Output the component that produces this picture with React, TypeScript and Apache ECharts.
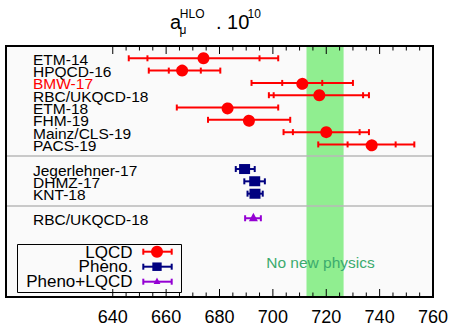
import React, { useEffect, useRef } from "react";
import * as echarts from "echarts";

// ---- data ----
const lqcdNames = ["ETM-14", "HPQCD-16", "BMW-17", "RBC/UKQCD-18", "ETM-18", "FHM-19", "Mainz/CLS-19", "PACS-19"];
const lqcdRows = [1, 2, 3, 4, 5, 6, 7, 8];
const lqcdValues = [674, 666, 711, 717.4, 683, 691, 720, 737];
const lqcdInnerLo = [653, 661, 703.5, 700.3, null, null, 707.5, 728];
const lqcdInnerHi = [695, 673, 718.5, 733.8, null, null, 732.5, 746];
const lqcdOuterLo = [646, 653.5, 692, 698.5, 664, 675.7, 704, 717];
const lqcdOuterHi = [702, 680.3, 730, 736, 702, 706.5, 736, 753];

const phenoNames = ["Jegerlehner-17", "DHMZ-17", "KNT-18"];
const phenoRows = [10, 11, 12];
const phenoValues = [689.4, 693.2, 693.3];
const phenoLo = [686.1, 689.3, 690.5];
const phenoHi = [693.2, 697.0, 696.2];

const comboNames = ["RBC/UKQCD-18"];
const comboRows = [14];
const comboValues = [692.7];
const comboLo = [689.6];
const comboHi = [695.5];

const highlighted = ["BMW-17"];
const separatorRows = [8.95, 13];
const noNewPhysicsBand = [712.6, 726.5];
const xTickLabels = [640, 660, 680, 700, 720, 740, 760];
const xMinorStep = 5;

const X_MIN = 600;
const X_MAX = 760;
const X_INTERVAL = 20;
const Y_MIN = 0;
const Y_MAX = 20.4;

const RED = "#ff0000";
const NAVY = "#000080";
const VIOLET = "#9400d3";
const FONT = "'Liberation Sans', Arial, Helvetica, sans-serif";

const tickValues: number[] = [];
for (let v = xTickLabels[0]; v <= X_MAX; v += xMinorStep) tickValues.push(v);

function markerShape(kind: string, cx: number, cy: number, color: string, size = 1) {
  if (kind === "circle") {
    return { type: "circle", shape: { cx, cy, r: 6 * size }, style: { fill: color } };
  }
  if (kind === "square") {
    return { type: "rect", shape: { x: cx - 5.5 * size, y: cy - 5 * size, width: 11 * size, height: 10 * size }, style: { fill: color } };
  }
  return {
    type: "polygon",
    shape: { points: [[cx, cy - 5.5 * size], [cx - 4.5 * size, cy + 3 * size], [cx + 4.5 * size, cy + 3 * size]] },
    style: { fill: color },
  };
}

function errorSeries(
  rows: number[], values: number[], oLo: number[], oHi: number[],
  iLo: (number | null)[] | null, iHi: (number | null)[] | null,
  color: string, kind: string
) {
  return {
    type: "custom",
    z: 3,
    silent: true,
    data: rows.map((r, i) => [values[i], r]),
    encode: { x: 0, y: 1 },
    renderItem: (params: any, api: any) => {
      const i = params.dataIndex;
      const [cx, cy] = api.coord([values[i], rows[i]]);
      const xl = api.coord([oLo[i], rows[i]])[0];
      const xr = api.coord([oHi[i], rows[i]])[0];
      const ls = { stroke: color, lineWidth: 2 };
      const children: any[] = [
        { type: "line", shape: { x1: xl, y1: cy, x2: xr, y2: cy }, style: ls },
        { type: "line", shape: { x1: xl, y1: cy - 3, x2: xl, y2: cy + 3 }, style: ls },
        { type: "line", shape: { x1: xr, y1: cy - 3, x2: xr, y2: cy + 3 }, style: ls },
      ];
      if (iLo && iHi && iLo[i] != null && iHi[i] != null) {
        const il = api.coord([iLo[i], rows[i]])[0];
        const ih = api.coord([iHi[i], rows[i]])[0];
        children.push({ type: "line", shape: { x1: il, y1: cy - 3, x2: il, y2: cy + 3 }, style: ls });
        children.push({ type: "line", shape: { x1: ih, y1: cy - 3, x2: ih, y2: cy + 3 }, style: ls });
      }
      children.push(markerShape(kind, cx, cy, color));
      return { type: "group", children };
    },
  };
}

const labelRows = [
  ...lqcdNames.map((n, i) => ({ name: n, row: lqcdRows[i] })),
  ...phenoNames.map((n, i) => ({ name: n, row: phenoRows[i] })),
  ...comboNames.map((n, i) => ({ name: n, row: comboRows[i] })),
];

const legendEntries = [
  { name: "LQCD", color: RED, kind: "circle" },
  { name: "Pheno.", color: NAVY, kind: "square" },
  { name: "Pheno+LQCD", color: VIOLET, kind: "triangle" },
];

export default function App() {
  const ref = useRef<HTMLDivElement>(null);
  useEffect(() => {
    if (!ref.current) return;
    const chart = echarts.init(ref.current, null, { renderer: "svg" });

    const legendChildren: any[] = [
      { type: "rect", shape: { x: 17.5, y: 244.5, width: 164, height: 48 }, style: { fill: "none", stroke: "#000", lineWidth: 1 } },
    ];
    legendEntries.forEach((e, k) => {
      const ty = 252.4 + k * 14.5;
      const sy = 251.7 + k * 15;
      legendChildren.push({
        type: "text",
        style: { text: e.name, x: 132.5, y: ty, align: "right", verticalAlign: "middle", fontSize: 17, fontFamily: FONT, fill: "#000" },
      });
      const ls = { stroke: e.color, lineWidth: 2 };
      legendChildren.push({ type: "line", shape: { x1: 143.3, y1: sy, x2: 171.7, y2: sy }, style: ls });
      legendChildren.push({ type: "line", shape: { x1: 143.3, y1: sy - 3, x2: 143.3, y2: sy + 3 }, style: ls });
      legendChildren.push({ type: "line", shape: { x1: 171.7, y1: sy - 3, x2: 171.7, y2: sy + 3 }, style: ls });
      legendChildren.push(markerShape(e.kind, 157, sy, e.color, e.kind === "square" ? 0.85 : e.kind === "triangle" ? 0.75 : 1));
    });

    const option: any = {
      animation: false,
      backgroundColor: "#ffffff",
      grid: { left: 6, right: 20, top: 46, bottom: 29, show: true, backgroundColor: "#fafafa", borderWidth: 0 },
      xAxis: {
        type: "value",
        min: X_MIN,
        max: X_MAX,
        interval: X_INTERVAL,
        axisLine: { show: false },
        axisTick: { show: false },
        splitLine: { show: false },
        axisLabel: {
          margin: 11,
          fontSize: 18,
          fontFamily: FONT,
          color: "#000",
          formatter: (v: number) => (xTickLabels.indexOf(v) >= 0 ? String(v) : ""),
        },
      },
      yAxis: { type: "value", min: Y_MIN, max: Y_MAX, inverse: true, show: false },
      series: [
        {
          type: "custom",
          z: 1,
          silent: true,
          data: labelRows.map((l) => [X_MIN, l.row]),
          encode: { x: 0, y: 1 },
          renderItem: (params: any, api: any) => {
            const l = labelRows[params.dataIndex];
            const [x, y] = api.coord([X_MIN, l.row]);
            return {
              type: "text",
              style: {
                text: l.name,
                x: x + 27,
                y: y + 1,
                align: "left",
                verticalAlign: "middle",
                fontSize: 15.5,
                fontFamily: FONT,
                fill: highlighted.indexOf(l.name) >= 0 && l.row < 9 ? RED : "#000",
              },
            };
          },
          markArea: {
            silent: true,
            itemStyle: { color: "#90ee90", opacity: 1 },
            label: { show: false },
            data: [[{ xAxis: noNewPhysicsBand[0] }, { xAxis: noNewPhysicsBand[1] }]],
          },
          markLine: {
            silent: true,
            symbol: "none",
            label: { show: false },
            lineStyle: { color: "#b8b8b8", width: 1.5, type: "solid" },
            data: separatorRows.map((r) => ({ yAxis: r })),
          },
        },
        errorSeries(lqcdRows, lqcdValues, lqcdOuterLo, lqcdOuterHi, lqcdInnerLo, lqcdInnerHi, RED, "circle"),
        errorSeries(phenoRows, phenoValues, phenoLo, phenoHi, null, null, NAVY, "square"),
        errorSeries(comboRows, comboValues, comboLo, comboHi, null, null, VIOLET, "triangle"),
        {
          type: "custom",
          z: 4,
          silent: true,
          data: tickValues.map((v) => [v, Y_MIN]),
          encode: { x: 0, y: 1 },
          renderItem: (params: any, api: any) => {
            const v = tickValues[params.dataIndex];
            const [x, top] = api.coord([v, Y_MIN]);
            const bottom = api.coord([v, Y_MAX])[1];
            const len = v % X_INTERVAL === 0 ? 8 : 4.5;
            const ls = { stroke: "#000", lineWidth: 1 };
            return {
              type: "group",
              children: [
                { type: "line", shape: { x1: x, y1: top, x2: x, y2: top + len }, style: ls },
                { type: "line", shape: { x1: x, y1: bottom, x2: x, y2: bottom - len }, style: ls },
              ],
            };
          },
        },
      ],
      graphic: [
        { type: "rect", z: 100, shape: { x: 6, y: 46, width: 427, height: 251 }, style: { fill: "none", stroke: "#000", lineWidth: 2 } },
        { type: "group", z: 90, children: legendChildren },
        { type: "text", z: 90, style: { text: "No new physics", x: 320.5, y: 262, align: "center", verticalAlign: "middle", fontSize: 15.5, fontFamily: FONT, fill: "#3cab6e" } },
        { type: "text", style: { text: "a", x: 170, y: 21.6, verticalAlign: "middle", fontSize: 20, fontFamily: FONT, fill: "#000" } },
        { type: "text", style: { text: "μ", x: 179.5, y: 30.3, verticalAlign: "middle", fontSize: 12, fontFamily: FONT, fill: "#000" } },
        { type: "text", style: { text: "HLO", x: 179.8, y: 14.2, verticalAlign: "middle", fontSize: 12, fontFamily: FONT, fill: "#000" } },
        { type: "text", style: { text: ". 10", x: 216, y: 21.6, verticalAlign: "middle", fontSize: 20, fontFamily: FONT, fill: "#000" } },
        { type: "text", style: { text: "10", x: 247.5, y: 14.2, verticalAlign: "middle", fontSize: 12, fontFamily: FONT, fill: "#000" } },
      ],
    };
    chart.setOption(option);
    return () => chart.dispose();
  }, []);
  return <div ref={ref} style={{ position: "fixed", left: 0, top: 0, width: 453, height: 326 }} />;
}
